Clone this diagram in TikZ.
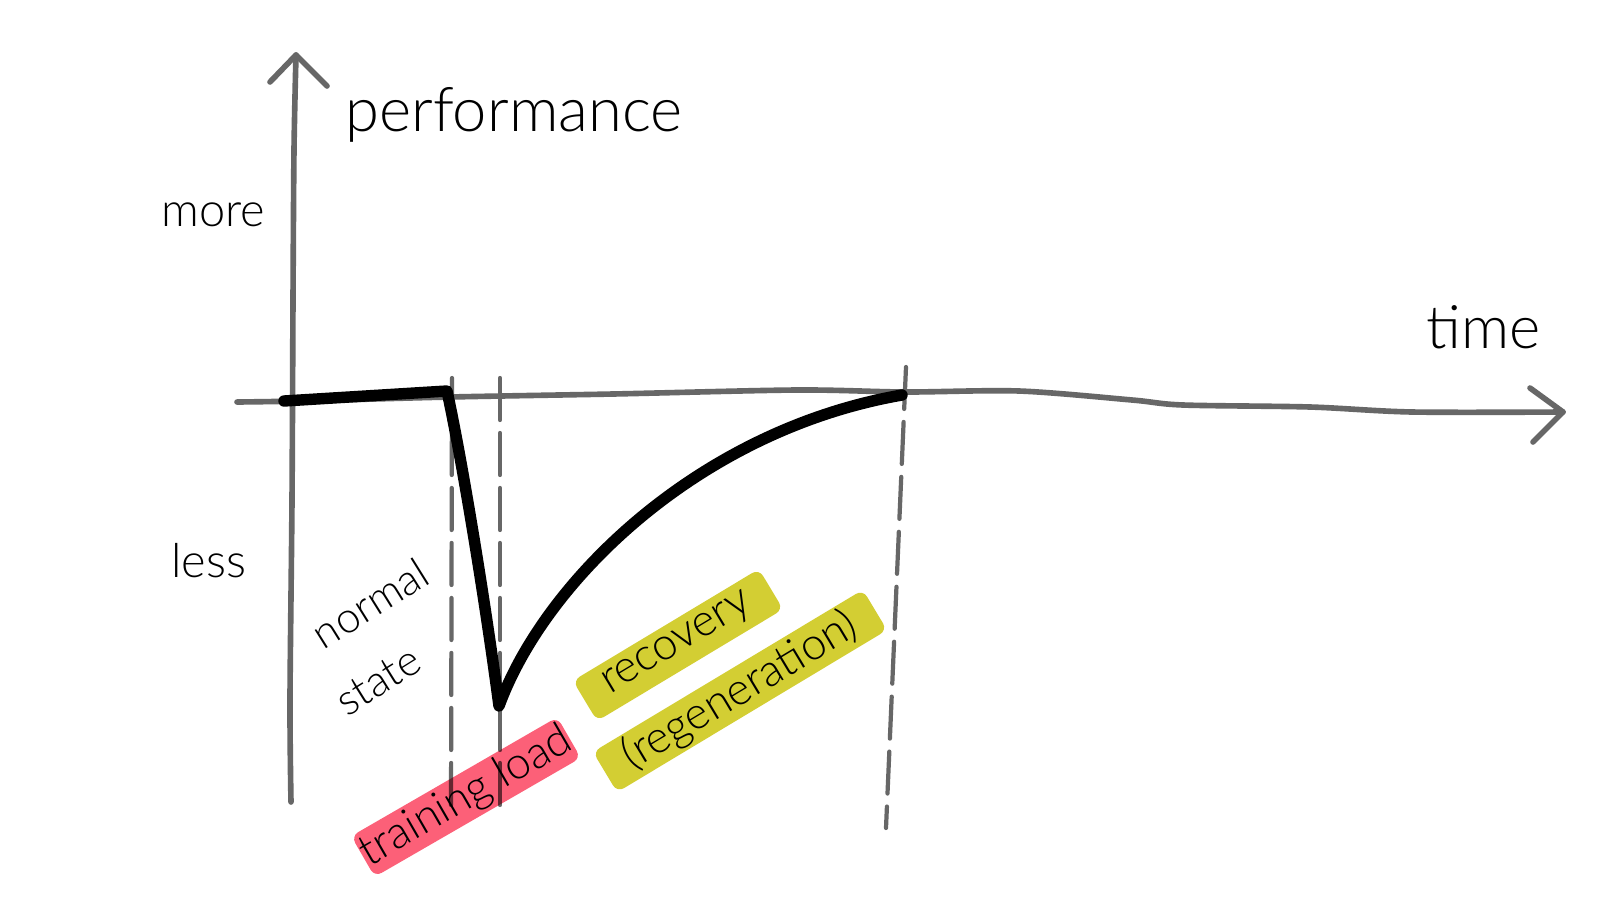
\documentclass[tikz,border=0pt]{standalone}
\usepackage{fontspec}
\setmainfont{Lato}[UprightFont=* Light]
\definecolor{axisgrey}{HTML}{676767}
\definecolor{loadred}{HTML}{FC6078}
\definecolor{recyellow}{HTML}{D3CE33}
\begin{document}
\begin{tikzpicture}[x=0.02cm,y=-0.02cm,
  axis/.style={draw=axisgrey,line width=3.2pt,line cap=round,line join=round},
  guide/.style={draw=axisgrey,line width=2.4pt,line cap=round,dash pattern=on 23.9pt off 7.4pt},
  perfcurve/.style={draw=black,line width=6.5pt,line cap=round,line join=round},
  lbl/.style={inner sep=0pt,text=black},
  tag/.style={rounded corners=4.5pt,inner sep=0pt,minimum height=0.94cm,
    font=\fontsize{25.5pt}{28pt}\selectfont,text=black},
]
\fill[white] (0,0) rectangle (1600,900);
\useasboundingbox (0,0) rectangle (1600,900);

% dashed guide lines
\coordinate (g1t) at (452,378); \coordinate (g1b) at (451,812);
\coordinate (g2t) at (500,378); \coordinate (g2b) at (500,812);
\coordinate (g3t) at (906,367); \coordinate (g3b) at (886,828);
\draw[guide] (g1t) -- (g1b);
\draw[guide] (g2t) -- (g2b);
\draw[guide] (g3t) -- (g3b);

% axes
\coordinate (ybot) at (291,802);
\coordinate (ytip) at (296,55);
\coordinate (xleft) at (237,402);
\coordinate (xtip) at (1563,412);
\draw[axis] plot[smooth,tension=0.5] coordinates {(291,802) (290,700) (292,500) (293,300) (294,150) (296,55)};
\draw[axis] (270,82) -- (ytip) -- (327,86);
\draw[axis] plot[smooth,tension=0.5] coordinates {(237,402) (300,401) (450,397) (613,394) (797,390) (905,392) (1019,391) (1132,400) (1183,405) (1310,407) (1412,412) (1563,412)};
\draw[axis] (1530,388) -- (xtip) -- (1533,442);

% performance curve
\coordinate (c0) at (284,401);
\coordinate (c1) at (447,391);
\coordinate (c2) at (499,706);
\coordinate (c3) at (902,395);
\draw[perfcurve] (c0) -- (c1) .. controls (462,460) and (485,600) .. (c2)
  .. controls (545,580) and (700,430) .. (c3);

% labels
\node[lbl,anchor=base west,font=\fontsize{35pt}{38pt}\selectfont] (perf) at (345,131) {performance};
\node[lbl,anchor=base west,font=\fontsize{26.7pt}{30pt}\selectfont] (more) at (161,226) {more};
\node[lbl,anchor=base west,font=\fontsize{26.7pt}{30pt}\selectfont] (less) at (171,577) {less};
\node[lbl,anchor=base west,font=\fontsize{34pt}{38pt}\selectfont] (time) at (1426,348) {time};
\node[lbl,rotate=32,font=\fontsize{24.5pt}{28pt}\selectfont] (normal) at (370,603) {normal};
\node[lbl,rotate=32,font=\fontsize{24.5pt}{28pt}\selectfont] (state) at (378,681) {state};

% tags
\begin{scope}[blend mode=multiply]
\node[tag,fill=loadred,rotate=30,minimum width=4.7cm] (load) at (466,797) {training load};
\node[tag,fill=recyellow,rotate=31,minimum width=4.34cm] (recov) at (678,645) {recovery};
\node[tag,fill=recyellow,rotate=31,minimum width=6.3cm] (regen) at (740,691) {(regeneration)};
\end{scope}
\end{tikzpicture}
\end{document}
